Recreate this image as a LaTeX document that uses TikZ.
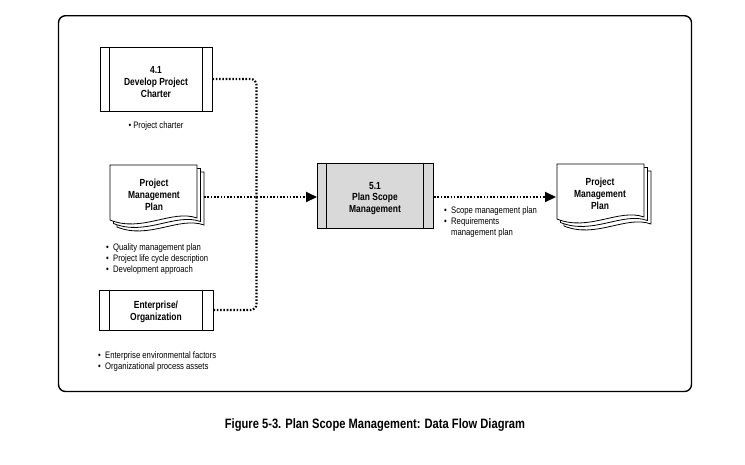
\documentclass[tikz,border=0pt]{standalone}
\usepackage{fontspec}
\setmainfont{Liberation Sans}[FakeStretch=0.82]
\usetikzlibrary{arrows.meta,calc}
\definecolor{procgray}{RGB}{217,217,217}
\tikzset{
  procbox/.style={draw=black,line width=0.9pt,fill=white,align=center,font=\bfseries\fontsize{10.3}{11.6}\selectfont,inner sep=0pt},
  flow/.style={line width=2.1pt,dash pattern=on 1.6pt off 1.7pt},
  tip/.style={-{Triangle[length=11pt,width=10pt]}},
  bul/.style={align=left,anchor=north west,font=\fontsize{9.4}{11}\selectfont,inner sep=0pt},
  doctext/.style={align=center,font=\bfseries\fontsize{10.3}{12.2}\selectfont,inner sep=0pt},
  pics/docicon/.style={code={
    \foreach \d in {7,3.5}{
      \draw[line width=0.8pt,fill=white] (\d,\d) -- (87+\d,\d) -- (87+\d,53+\d)
        .. controls (62+\d,44+\d) and (32+\d,68+\d) .. (\d,55+\d) -- cycle;}
    \draw[line width=0.8pt,fill=white] (0,0) -- (87,0) -- (87,53)
        .. controls (62,44) and (32,68) .. (0,55) -- cycle;
  }}
}
\begin{document}
\begin{tikzpicture}[x=1pt,y=-1pt]
\useasboundingbox (0,0) rectangle (745,464);
% frame
\draw[line width=1.4pt,rounded corners=7pt] (58.5,15.7) rectangle (691.5,391.5);

% 4.1 box
\node[procbox,minimum width=112pt,minimum height=64pt] (dev) at (156,79) {};
\node[procbox,draw=none,fill=none] (devt) at (156,82) {4.1\\Develop Project\\Charter};
\draw[line width=0.9pt] ([xshift=10pt]dev.north west) -- ([xshift=10pt]dev.south west);
\draw[line width=0.9pt] ([xshift=-10pt]dev.north east) -- ([xshift=-10pt]dev.south east);
\node[bul,anchor=north] (devb) at (156,121) {\textbullet\ Project charter};

% PMP input document
\pic at (110,165) {docicon};
\node[doctext] (pmpA) at (154,195) {Project\\Management\\Plan};
\coordinate (pmpAe) at (204,197);
\node[bul] (pmpb) at (106,243) {\textbullet\ \ Quality management plan\\\textbullet\ \ Project life cycle description\\\textbullet\ \ Development approach};

% Enterprise box
\node[procbox,minimum width=114pt,minimum height=40pt] (ent) at (156,310) {};
\node[procbox,draw=none,fill=none] (entt) at (156,312) {Enterprise/\\Organization};
\draw[line width=0.9pt] ([xshift=11pt]ent.north west) -- ([xshift=11pt]ent.south west);
\draw[line width=0.9pt] ([xshift=-11pt]ent.north east) -- ([xshift=-11pt]ent.south east);
\node[bul] (entb) at (98,351) {\textbullet\ \ Enterprise environmental factors\\\textbullet\ \ Organizational process assets};

% 5.1 box
\node[procbox,fill=procgray,minimum width=116pt,minimum height=65pt] (sc) at (375,195.5) {};
\node[procbox,draw=none,fill=none] (sct) at (375,198.5) {5.1\\Plan Scope\\Management};
\draw[line width=0.9pt] ([xshift=10pt]sc.north west) -- ([xshift=10pt]sc.south west);
\draw[line width=0.9pt] ([xshift=-10pt]sc.north east) -- ([xshift=-10pt]sc.south east);
\coordinate (scw) at (317,197);
\coordinate (sce) at (434,197);

% output document
\pic at (557,164) {docicon};
\node[doctext] (pmpB) at (600,194) {Project\\Management\\Plan};
\coordinate (pmpBw) at (556,197);
\node[bul] (scb) at (444,206) {\textbullet\ \ Scope management plan\\\textbullet\ \ Requirements\\\phantom{\textbullet\ \ }management plan};

% connectors
\coordinate (j) at (256.5,197);
\draw[flow,rounded corners=6pt] (dev.east) -| (j);
\draw[flow,rounded corners=6pt] (ent.east) -| (j);
\draw[flow,tip] (pmpAe) -- (scw);
\draw[flow,tip] (sce) -- (pmpBw);

% caption
\node[font=\bfseries\fontsize{13.6}{16}\selectfont,inner sep=0pt] (cap) at (375,425) {Figure 5-3. Plan Scope Management: Data Flow Diagram};
\end{tikzpicture}
\end{document}
